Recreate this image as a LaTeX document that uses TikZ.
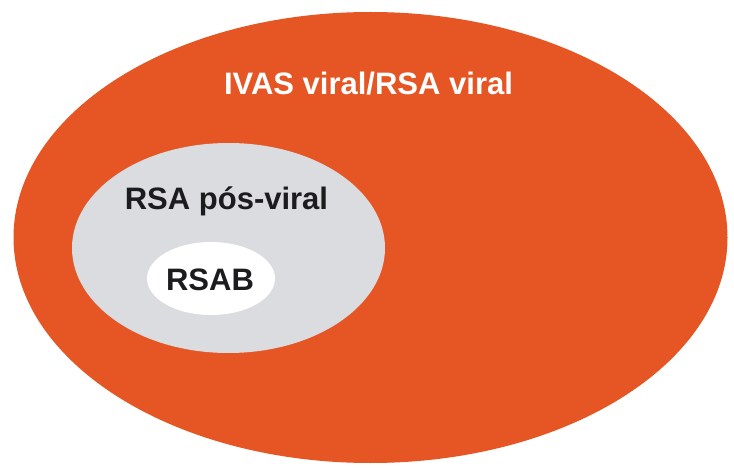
\documentclass[tikz,border=0pt]{standalone}
\usepackage{fontspec}
\setmainfont{Liberation Sans}
\definecolor{orangefill}{RGB}{229,86,36}
\definecolor{grayfill}{RGB}{218,220,223}
\definecolor{darktext}{RGB}{28,28,30}
\tikzset{
  lbl/.style={font=\bfseries\fontsize{31}{31}\selectfont, anchor=base, inner sep=0pt},
}
\begin{document}
\begin{tikzpicture}[x=1pt,y=-1pt]
\fill[white] (0,0) rectangle (734,468);
\useasboundingbox (0,0) rectangle (734,468);
\fill[orangefill] (370.5,237.5) ellipse [x radius=357, y radius=225.5];
\fill[grayfill] (228.5,248) ellipse [x radius=156.5, y radius=105];
\fill[white] (211,278.5) ellipse [x radius=64, y radius=36.5];
\node[lbl, text=white] (outer) at (368.5,95) {IVAS viral/RSA viral};
\node[lbl, text=darktext] (mid) at (226.5,209) {RSA pós-viral};
\node[lbl, text=darktext] (inner) at (210,290) {RSAB};
\end{tikzpicture}
\end{document}
